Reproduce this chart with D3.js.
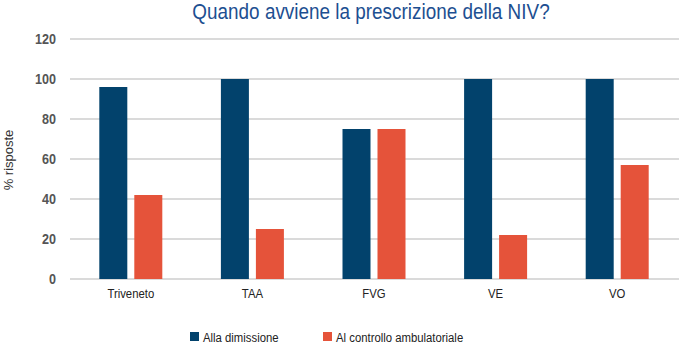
<!DOCTYPE html>
<html><head><meta charset="utf-8">
<script src="https://cdn.jsdelivr.net/npm/d3@7"></script>
<style>body{margin:0;background:#fff}svg{display:block}</style>
</head><body>
<svg id="c" width="681" height="345"></svg>
<script>
const categories = ["Triveneto","TAA","FVG","VE","VO"];
const seriesNames = ["Alla dimissione","Al controllo ambulatoriale"];
const dimissione = [96, 100, 75, 100, 100];
const controllo = [42, 25, 75, 22, 57];
const yTicks = [0,20,40,60,80,100,120];
const colors = ["#02426c","#e5533a"];
const title = "Quando avviene la prescrizione della NIV?";
const yTitle = "% risposte";

const font = "'Liberation Sans',Arial,sans-serif";
const svg = d3.select("#c");
const m = {l:70, r:3, t:39, b:66};
const W = 681, H = 345;
const x = d3.scaleBand().domain(categories).range([m.l, W-m.r]).padding(0);
const y = d3.scaleLinear().domain([0,120]).range([H-m.b, m.t]);
const xs = d3.scaleBand().domain(seriesNames).range([0, 63]).paddingInner(0.2);
const SX = 0.84; // condensed look

// gridlines
svg.append("g").selectAll("line").data(yTicks).join("line")
  .attr("x1", m.l).attr("x2", W-2)
  .attr("y1", d=>y(d)).attr("y2", d=>y(d))
  .attr("stroke", "#dadada").attr("stroke-width", 2);

// y axis labels
svg.append("g").selectAll("g").data(yTicks).join("g")
  .attr("transform", d=>`translate(${m.l-14},${y(d)}) scale(${SX},1)`)
  .append("text").attr("text-anchor","end").attr("dy","0.35em")
  .attr("font-family", font).attr("font-size", 15).attr("font-weight","bold").attr("fill","#555")
  .text(d=>d);

// bars
const data = categories.map((c,i)=>({c, vals:[dimissione[i], controllo[i]]}));
const g = svg.append("g").selectAll("g").data(data).join("g")
  .attr("transform", d=>`translate(${x(d.c)+x.bandwidth()/2-31.5},0)`);
g.selectAll("rect").data(d=>d.vals.map((v,j)=>({s:seriesNames[j], v, j}))).join("rect")
  .attr("x", d=>xs(d.s)).attr("width", xs.bandwidth())
  .attr("y", d=>y(d.v)).attr("height", d=>y(0)-y(d.v))
  .attr("fill", d=>colors[d.j]);

// x labels
svg.append("g").selectAll("g").data(categories).join("g")
  .attr("transform", d=>`translate(${x(d)+x.bandwidth()/2},${y(0)+19}) scale(${SX},1)`)
  .append("text").attr("text-anchor","middle")
  .attr("font-family", font).attr("font-size", 13.5).attr("fill","#222").text(d=>d);

// title
svg.append("g").attr("transform",`translate(371,19) scale(0.86,1)`)
  .append("text").attr("text-anchor","middle")
  .attr("font-family", font).attr("font-size", 22).attr("fill","#1d4f91").text(title);

// y title
svg.append("text").attr("transform","translate(13,160) rotate(-90)").attr("text-anchor","middle")
  .attr("font-family", font).attr("font-size", 13).attr("fill","#333").text(yTitle);

// legend
const legX = [190, 323];
const lg = svg.append("g").selectAll("g").data(seriesNames).join("g")
  .attr("transform", (d,i)=>`translate(${legX[i]},332)`);
lg.append("rect").attr("width",9).attr("height",9).attr("fill",(d,i)=>colors[i]);
lg.append("g").attr("transform",`translate(13,9.5) scale(${SX},1)`)
  .append("text").attr("font-family", font).attr("font-size",13.5).attr("fill","#222").text(d=>d);
</script>
</body></html>
